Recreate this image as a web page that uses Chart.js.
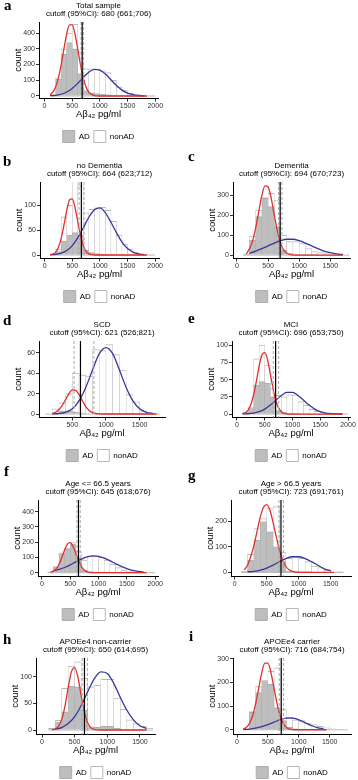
<!DOCTYPE html>
<html lang="en">
<head>
<meta charset="utf-8">
<title>Aβ42 cutoffs by subgroup</title>
<script src="https://cdn.jsdelivr.net/npm/chart.js@4.4.1/dist/chart.umd.min.js"></script>
<style>
  html, body { margin: 0; padding: 0; background: #fff; }
  body { width: 358px; height: 780px; overflow: hidden; position: relative; }
  .panel { position: absolute; }
  .letter { position: absolute; font-family: "Liberation Serif", "DejaVu Serif", serif; font-weight: bold; font-size: 15px; line-height: 15px; color: #000; }
</style>
</head>
<body>
<script>
// Histogram bins (width 100) and the x grids of the two fitted curves
const binCenters = [50, 150, 250, 350, 450, 550, 650, 750, 850, 950, 1050, 1150, 1250, 1350, 1450, 1550, 1650, 1750, 1850, 1950];
const redX = [100, 150, 200, 250, 300, 350, 400, 450, 500, 550, 600, 650, 700, 750, 800, 850, 900, 950, 1000,
  1050, 1100, 1150, 1200, 1250, 1300, 1350, 1400, 1450, 1500, 1550, 1600, 1650, 1700, 1750, 1800, 1850, 1900, 1950, 2000];
const blueX = [100, 200, 300, 400, 500, 600, 700, 800, 900, 1000, 1100, 1200, 1300, 1400, 1500, 1600, 1700, 1800, 1900, 2000];

const titles = ['Total sample', 'no Dementia', 'Dementia', 'SCD', 'MCI',
  'Age <= 66.5 years', 'Age > 66.5 years', 'APOEe4 non-carrier', 'APOEe4 carrier'];
const cutoffs = [680, 664, 694, 621, 696, 645, 723, 650, 716];
const ciLow = [661, 623, 670, 526, 653, 618, 691, 614, 684];
const ciHigh = [706, 712, 723, 821, 750, 676, 761, 695, 754];

const xTicks2000 = [0, 500, 1000, 1500, 2000];
const xTicks1500 = [0, 500, 1000, 1500];
const xTicksSCD = [500, 1000, 1500];
const yTicks400 = [0, 100, 200, 300, 400];
const yTicks300 = [0, 100, 200, 300];
const yTicks200 = [0, 100, 200];
const yTicks100 = [0, 50, 100];
const yTicksMCI = [0, 25, 50, 75, 100];
const yTicksSCD = [0, 20, 40, 60];

// a - Total sample
const adA = [null, 8, 105, 265, 340, 300, 140, 35, 20, 15, 10, 8, 5, 3, 2, 1, 0, 0, 0, 0];
const nonA = [null, 2, 10, 35, 60, 155, 140, 137, 152, 155, 150, 140, 95, 54, 33, 16, 8, 3, 1, 0];
const redA = [8, 25, 57, 115, 198, 299, 393, 452, 452, 393, 299, 198, 115, 57, 25, 10, 3, 1,
  0, 0, 0, 0, 0, 0, 0, 0, 0, 0, 0, 0, 0, 0, 0, 0, 0, 0, null, null, null];
const blueA = [2, 4, 11, 25, 48, 81, 118, 151, 169, 164, 139, 103, 66, 37, 18, 8, 3, 1, null, null];

// b - no Dementia
const adB = [null, 1, 7, 28, 40, 45, 40, 10, 5, 3, 2, 1, 1, 0, 0, 0, 0, 0, 0, 0];
const nonB = [null, 2, 5, 49, 60, 113, 100, 75, 87, 92, 94, 89, 67, 40, 22, 12, 5, 2, 1, 0];
const redB = [0.5, 2, 6, 16, 34, 61, 90, 111, 113, 95, 67, 39, 19, 7, 2.4, 0.7, 0,
  0, 0, 0, 0, 0, 0, 0, 0, 0, 0, 0, 0, 0, 0, 0, 0, 0, 0, 0, null, null, null];
const blueB = [0.4, 1.3, 3.7, 9, 19, 35, 55, 76, 91, 95, 85, 66, 45, 26, 13, 6, 2.2, 0.7, null, null];

// c - Dementia
const adC = [null, 4, 75, 192, 283, 242, 142, 25, 8, 5, 3, 2, 1, 0, 0, 0, 0, 0, null, null];
const nonC = [null, 1, 20, 33, 5, 66, 130, 75, 59, 62, 55, 31, 16, 12, 8, 5, 2, 1, null, null];
const redC = [null, 6, 31, 70, 135, 217, 298, 346, 340, 284, 200, 120, 61, 26, 10, 3, 1,
  0, 0, 0, 0, 0, 0, 0, 0, 0, 0, 0, 0, 0, 0, 0, 0, null, null, null, null, null, null];
const blueC = [null, 9, 20, 32, 46, 60, 72, 79, 79, 72, 60, 46, 32, 20, 12, 6, 3, null, null, null];

// d - SCD
const adD = [null, 0, 1, 3, 3, 2, 1, 0, 0, 0, 0, 0, 0, 0, 0, 0, 0, 0, null, null];
const nonD = [null, 1, 4, 8, 17, 38, 37, 37, 63, 62, 68, 58, 43, 19, 12, 3, 1, 0, null, null];
const redD = [null, null, 0.6, 1.7, 4.1, 8.4, 14.1, 20, 23.7, 23.2, 19, 13, 7.3, 3.5, 1.4, 0.5, 0.1,
  0, 0, 0, 0, 0, 0, 0, 0, 0, 0, 0, 0, 0, 0, 0, 0, 0, null, null, null, null, null];
const blueD = [null, 0.1, 0.5, 1.7, 5.2, 12.9, 26, 43, 59, 65, 59, 43, 26, 12.9, 5.2, 1.7, 0.5, null, null, null];

// e - MCI
const adE = [null, 2, 8, 42, 47, 45, 25, 5, 2, 1, 1, 0, 0, 0, 0, 0, 0, 0, 0, 0];
const nonE = [null, 0, 2, 38, 53, 26, 12, 22, 23, 27, 27, 18, 13, 7, 4, 2, 1, 1, 0, 0];
const redE = [0.6, 2, 5.7, 14, 28, 48, 70, 86, 89, 79, 58, 37, 19, 9, 3.3, 1, 0.3,
  0, 0, 0, 0, 0, 0, 0, 0, 0, 0, 0, 0, 0, 0, 0, 0, 0, 0, 0, 0, null, null];
const blueE = [0.2, 0.5, 1.4, 3.4, 7.2, 13, 20, 27, 31.4, 31.4, 27, 20, 13, 7.2, 3.4, 1.4, 0.5, 0.2, 0.05, null];

// f - Age <= 66.5 years
const adF = [null, 3, 38, 125, 158, 190, 94, 17, 6, 3, 2, 1, 0, 0, 0, 0, 0, 0, 0, 0];
const nonF = [null, 0, 2, 6, 2, 7, 44, 66, 103, 108, 98, 82, 57, 33, 17, 9, 4, 2, 1, 0];
const redF = [null, 3, 10, 25, 54, 99, 149, 188, 197, 172, 125, 76, 38, 16, 5.6, 1.7, 0.4,
  0, 0, 0, 0, 0, 0, 0, 0, 0, 0, 0, 0, 0, 0, 0, 0, 0, 0, 0, null, null, null];
const blueF = [null, 12, 21, 34, 51, 71, 89, 103, 110, 107, 96, 79, 59, 41, 26, 15, 8, 4, null, null];

// g - Age > 66.5 years
const adG = [null, 3, 48, 126, 197, 158, 100, 45, 5, 3, 2, 1, 0, 0, 0, 0, 0, null, null, null];
const nonG = [null, 0, 22, 45, 13, 91, 156, 32, 50, 58, 53, 41, 25, 19, 9, 5, 2, null, null, null];
const redG = [null, 10, 28, 61, 105, 161, 216, 254, 264, 242, 194, 138, 86, 47, 23, 10, 3.6, 1.2, 0.3,
  0, 0, 0, 0, 0, 0, 0, 0, 0, 0, 0, null, null, null, null, null, null, null, null, null];
const blueG = [null, 1.7, 4.2, 9, 17, 28, 42, 54, 61, 61, 54, 42, 28, 14, 6, null, null, null, null, null];

// h - APOEe4 non-carrier
const adH = [null, 3, 15, 34, 82, 81, 37, 6, 5, 7, 7, 3, 1, 0, 0, 0, 0, null, null, null];
const nonH = [null, 0, 3, 44, 38, 47, 60, 75, 79, 88, 88, 57, 38, 19, 12, 7, 3, null, null, null];
const redH = [null, 0.4, 1.8, 6.6, 19, 44, 79, 109, 117, 99, 64, 33, 13, 4, 1, 0.2,
  0, 0, 0, 0, 0, 0, 0, 0, 0, 0, 0, 0, 0, 0, 0, null, null, null, null, null, null, null, null];
const blueH = [null, 1.5, 4.6, 12, 25, 46, 72, 96, 109, 106, 87, 61, 37, 19, 8, 3, null, null, null, null];

// i - APOEe4 carrier
const adI = [null, 3, 74, 157, 208, 192, 94, 39, 10, 4, 2, 1, 0, 0, 0, 0, 0, 0, null, null];
const nonI = [null, 0, 4, 25, 0, 55, 167, 48, 43, 38, 37, 27, 22, 14, 8, 4, 2, 1, null, null];
const redI = [3, 10, 26, 57, 108, 174, 240, 281, 281, 240, 174, 108, 57, 26, 10, 3, 1,
  0, 0, 0, 0, 0, 0, 0, 0, 0, 0, 0, null, null, null, null, null, null, null, null, null, null, null];
const blueI = [1.3, 3.1, 6.8, 13, 22, 32, 42.5, 49, 49.5, 42, 30, 18, 9, 4, null, null, null, null, null, null];

const panels = [
  { letter: 'a', ad: adA, non: nonA, red: redA, blue: blueA, xTicks: xTicks2000, yTicks: yTicks400 },
  { letter: 'b', ad: adB, non: nonB, red: redB, blue: blueB, xTicks: xTicks2000, yTicks: yTicks100 },
  { letter: 'c', ad: adC, non: nonC, red: redC, blue: blueC, xTicks: xTicks1500, yTicks: yTicks300 },
  { letter: 'd', ad: adD, non: nonD, red: redD, blue: blueD, xTicks: xTicksSCD, yTicks: yTicksSCD },
  { letter: 'e', ad: adE, non: nonE, red: redE, blue: blueE, xTicks: xTicks2000, yTicks: yTicksMCI },
  { letter: 'f', ad: adF, non: nonF, red: redF, blue: blueF, xTicks: xTicks2000, yTicks: yTicks400 },
  { letter: 'g', ad: adG, non: nonG, red: redG, blue: blueG, xTicks: xTicks1500, yTicks: yTicks200 },
  { letter: 'h', ad: adH, non: nonH, red: redH, blue: blueH, xTicks: xTicks1500, yTicks: yTicks100 },
  { letter: 'i', ad: adI, non: nonI, red: redI, blue: blueI, xTicks: xTicks1500, yTicks: yTicks300 }
];

// where each panel sits on the page, and its axis ranges
const boxes = [
  { top: 0,   left: 39,  right: 158, xMin: -100, xMax: 2050, yMin: -16,  yMax: 470,  lx: 4,   ly: -2 },
  { top: 160, left: 40,  right: 159, xMin: -85,  xMax: 2070, yMin: -7,   yMax: 147,  lx: 3,   ly: 154 },
  { top: 160, left: 233, right: 350, xMin: -64,  xMax: 1817, yMin: -17,  yMax: 365,  lx: 188, ly: 149 },
  { top: 319, left: 39,  right: 165, xMin: 5,    xMax: 1877, yMin: -3.4, yMax: 71.4, lx: 3,   ly: 313 },
  { top: 319, left: 232, right: 350, xMin: -90,  xMax: 2036, yMin: -5,   yMax: 106,  lx: 188, ly: 311 },
  { top: 478, left: 38,  right: 158, xMin: -70,  xMax: 2050, yMin: -25,  yMax: 477,  lx: 4,   ly: 464 },
  { top: 478, left: 231, right: 351, xMin: -58,  xMax: 1817, yMin: -16,  yMax: 282,  lx: 188, ly: 468 },
  { top: 636, left: 36,  right: 155, xMin: -92,  xMax: 1730, yMin: -8.4, yMax: 135,  lx: 3,   ly: 632 },
  { top: 636, left: 233, right: 351, xMin: -65,  xMax: 1845, yMin: -20,  yMax: 303,  lx: 189, ly: 629 }
];

Chart.defaults.font.family = '"Liberation Sans", Arial, sans-serif';
const binWidth = binCenters[1] - binCenters[0];
// half-width side borders so neighbouring bins share one outline
const binBorder = { top: 1, left: 0.5, right: 0.5, bottom: 0 };

// zero baseline under the bins, then the cutoff and its 95% CI
function cutoffLines(i, p) {
  return {
    id: 'cutoffLines',
    beforeDatasetsDraw(chart) {
      const { ctx } = chart;
      const x = chart.scales.x, y = chart.scales.y;
      const used = binCenters.filter((c, k) => p.ad[k] !== null);
      const y0 = y.getPixelForValue(0);
      ctx.save();
      ctx.strokeStyle = '#b5b5b5';
      ctx.lineWidth = 1;
      ctx.beginPath();
      ctx.moveTo(x.getPixelForValue(used[0] - binWidth / 2), y0);
      ctx.lineTo(x.getPixelForValue(used[used.length - 1] + binWidth / 2), y0);
      ctx.stroke();
      ctx.restore();
    },
    afterDatasetsDraw(chart) {
      const { ctx, chartArea } = chart;
      const x = chart.scales.x;
      ctx.save();
      ctx.strokeStyle = '#a8a8a8';
      ctx.lineWidth = 1;
      ctx.setLineDash([3, 2]);
      [ciLow[i], ciHigh[i]].forEach(v => {
        const px = x.getPixelForValue(v);
        ctx.beginPath();
        ctx.moveTo(px, chartArea.top);
        ctx.lineTo(px, chartArea.bottom);
        ctx.stroke();
      });
      ctx.setLineDash([]);
      ctx.strokeStyle = '#000';
      ctx.lineWidth = 1.2;
      const cx = x.getPixelForValue(cutoffs[i]);
      ctx.beginPath();
      ctx.moveTo(cx, chartArea.top);
      ctx.lineTo(cx, chartArea.bottom);
      ctx.stroke();
      ctx.restore();
    }
  };
}

panels.forEach((p, i) => {
  const b = boxes[i];
  const w = b.right - b.left + 80;
  const canvas = document.createElement('canvas');
  canvas.className = 'panel';
  canvas.width = w;
  canvas.height = 158;
  canvas.style.left = (b.left - 40) + 'px';
  canvas.style.top = b.top + 'px';
  canvas.style.width = w + 'px';
  canvas.style.height = '158px';
  document.body.appendChild(canvas);

  const letter = document.createElement('div');
  letter.className = 'letter';
  letter.textContent = p.letter;
  letter.style.left = b.lx + 'px';
  letter.style.top = b.ly + 'px';
  document.body.appendChild(letter);

  new Chart(canvas, {
    type: 'bar',
    data: {
      datasets: [
        {
          type: 'line',
          label: 'AD fit',
          data: redX.map((x, k) => ({ x: x, y: p.red[k] })),
          borderColor: '#e0302e',
          borderWidth: 1.3,
          pointRadius: 0,
          cubicInterpolationMode: 'monotone',
          fill: false,
          stack: 'red',
          order: 0
        },
        {
          type: 'line',
          label: 'nonAD fit',
          data: blueX.map((x, k) => ({ x: x, y: p.blue[k] })),
          borderColor: '#36369c',
          borderWidth: 1.3,
          pointRadius: 0,
          cubicInterpolationMode: 'monotone',
          fill: false,
          stack: 'blue',
          order: 1
        },
        {
          label: 'AD',
          data: binCenters.map((x, k) => ({ x: x, y: p.ad[k] })),
          backgroundColor: '#bebebe',
          borderColor: '#adadad',
          borderWidth: binBorder,
          borderSkipped: false,
          barPercentage: 1,
          categoryPercentage: 1,
          stack: 'hist',
          order: 2
        },
        {
          label: 'nonAD',
          data: binCenters.map((x, k) => ({ x: x, y: p.non[k] })),
          backgroundColor: '#ffffff',
          borderColor: '#b8b8b8',
          borderWidth: binBorder,
          borderSkipped: false,
          barPercentage: 1,
          categoryPercentage: 1,
          stack: 'hist',
          order: 3
        }
      ]
    },
    options: {
      responsive: false,
      animation: false,
      events: [],
      layout: { padding: { bottom: 5.5 } },
      plugins: {
        title: {
          display: true,
          text: [titles[i], 'cutoff (95%CI): ' + cutoffs[i] + ' (' + ciLow[i] + ';' + ciHigh[i] + ')'],
          color: '#000',
          font: { size: 8, weight: 'normal', lineHeight: 1 },
          padding: { top: 2, bottom: 4 }
        },
        legend: {
          position: 'bottom',
          labels: {
            generateLabels: chart => Chart.defaults.plugins.legend.labels.generateLabels(chart)
              .map(item => Object.assign(item, { lineWidth: 1 })),
            filter: item => item.text === 'AD' || item.text === 'nonAD',
            boxWidth: 12,
            boxHeight: 12,
            padding: 4,
            color: '#000',
            font: { size: 8 }
          }
        },
        tooltip: { enabled: false }
      },
      scales: {
        x: {
          type: 'linear',
          min: b.xMin,
          max: b.xMax,
          stacked: true,
          offset: false,
          afterBuildTicks: s => { s.ticks = p.xTicks.map(v => ({ value: v })); },
          afterFit: s => { s.height = 28; },
          grid: { offset: false, drawOnChartArea: false, tickLength: 3, color: '#333' },
          border: { color: '#000', width: 1 },
          ticks: { color: '#333', font: { size: 7 }, padding: 0, maxRotation: 0, autoSkip: false, callback: v => String(v) },
          title: { display: true, text: 'Aβ₄₂ pg/ml', color: '#000', font: { size: 9.5, lineHeight: 1.2 }, padding: { top: 0, bottom: 6 } }
        },
        y: {
          type: 'linear',
          min: b.yMin,
          max: b.yMax,
          stacked: true,
          afterBuildTicks: s => { s.ticks = p.yTicks.map(v => ({ value: v })); },
          afterFit: s => { s.width = 40; },
          grid: { drawOnChartArea: false, tickLength: 3, color: '#333' },
          border: { color: '#000', width: 1 },
          ticks: { color: '#333', font: { size: 7 }, padding: 1, autoSkip: false, callback: v => String(v) },
          title: { display: true, text: 'count', color: '#000', font: { size: 9.5, lineHeight: 1.2 }, padding: { top: 14, bottom: 0 } }
        },
        y2: {
          type: 'linear',
          position: 'right',
          display: true,
          grid: { display: false },
          border: { display: false },
          ticks: { display: false },
          afterFit: s => { s.width = 40; }
        }
      }
    },
    plugins: [cutoffLines(i, p)]
  });
});
</script>
</body>
</html>
